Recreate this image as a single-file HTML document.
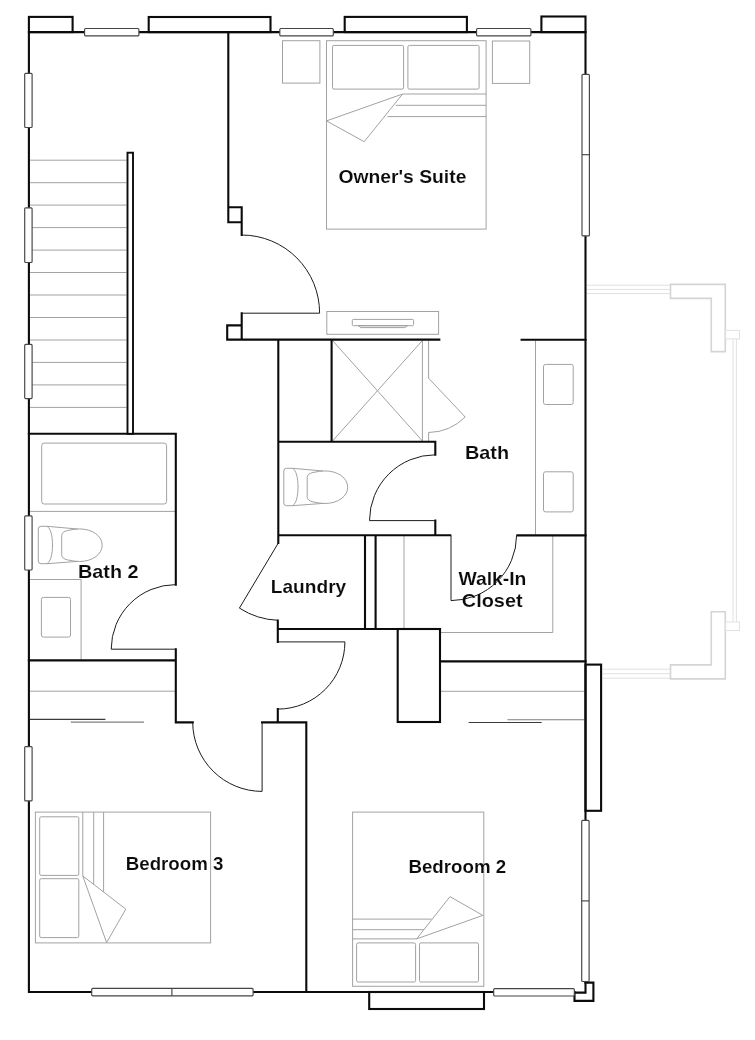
<!DOCTYPE html>
<html><head><meta charset="utf-8"><title>Floor plan</title>
<style>
html,body{margin:0;padding:0;background:#fff;}
body{width:755px;height:1040px;overflow:hidden;}
svg{display:block;}
.w{stroke:#0b0b0b;stroke-width:2.1;fill:none;stroke-linecap:square;stroke-linejoin:miter;}
.wf{stroke:#0b0b0b;stroke-width:2.1;fill:#fff;stroke-linejoin:miter;}
.d{stroke:#1c1c1c;stroke-width:1;fill:none;}
.g{stroke:#a2a2a2;stroke-width:1;fill:none;}
.gf{stroke:#a2a2a2;stroke-width:1;fill:#fff;}
.win{stroke:#444;stroke-width:1.15;fill:#fff;}
.b{stroke:#d4d4d4;stroke-width:1.6;fill:#fff;}
.bl{stroke:#e1e1e1;stroke-width:1;fill:none;}
text{font-family:"Liberation Sans",sans-serif;font-weight:bold;font-size:19px;fill:#0b0b0b;stroke:#fff;stroke-width:0.12;}
#labels{filter:grayscale(1);}
</style></head><body>
<svg width="755" height="1040" viewBox="0 0 755 1040">
<rect width="755" height="1040" fill="#fff"/>

<g id="balcony">
<path class="bl" d="M587,285.2H670.5M587,289.4H670.5M587,293.5H670.5"/>
<path class="bl" d="M602.5,669.2H670.5M602.5,673.7H670.5M602.5,678.2H670.5"/>
<path class="bl" d="M733,339V622M736.4,339V622"/>
<path class="b" d="M670.5,284.4H725.3V351.6H711.3V298.4H670.5Z"/>
<path class="b" d="M711.3,611.7H725.3V678.9H670.5V664.9H711.3Z"/>
<rect class="bl" x="725.3" y="330.4" width="14.2" height="8.5" fill="#fff"/>
<rect class="bl" x="725.3" y="622" width="14.2" height="8.5" fill="#fff"/>
</g>
<g id="furniture">
<path class="g" d="M30,160.2H126.5M30,182.7H126.5M30,205.1H126.5M30,227.6H126.5M30,250.1H126.5M30,272.5H126.5M30,295.0H126.5M30,317.5H126.5M30,340.0H126.5M30,362.4H126.5M30,384.9H126.5M30,407.4H126.5"/>
<rect class="g" x="282.5" y="40.7" width="37.4" height="42.4"/>
<rect class="g" x="492.4" y="41" width="37.3" height="42.4"/>
<rect class="g" x="326.5" y="40.7" width="159.6" height="188.4"/>
<rect class="g" x="332.5" y="45.4" width="71.1" height="43.7" rx="1.5"/>
<rect class="g" x="407.9" y="45.4" width="71.2" height="43.7" rx="1.5"/>
<path class="g" d="M402.6,94H486.1M395.7,105.3H486.1M387.4,116.6H486.1M402.6,94L326.5,120.9L364.2,141.7Z"/>
<rect class="g" x="326.8" y="311.5" width="111.8" height="22.8"/>
<rect class="g" x="352.3" y="319.4" width="61.3" height="6.3" rx="1"/>
<path class="g" d="M358,325.5L361,327.6H404.8L407.8,325.5Z" style="fill:#dcdcdc"/>
<path class="g" d="M422.4,340.5V441M332.5,340.5L422.4,441M422.4,340.5L332.5,441"/>
<path class="g" d="M428.6,340.5V378.2L465.2,417A53.5,53.5 0 0 1 428.6,432.5V441"/>
<path class="g" d="M535.5,340.5V534.5"/>
<rect class="g" x="543.5" y="364.4" width="29.7" height="40.1" rx="2"/>
<rect class="g" x="543.5" y="471.8" width="29.7" height="40.1" rx="2"/>
<g transform="translate(0.0,0.0)">
<path class="g" d="M286.5,468.3H292.5C296.3,470.5 298,478 298,487C298,496 296.3,503.5 292.5,505.7H286.5Q283.8,505.7 283.8,503V471Q283.8,468.3 286.5,468.3Z"/>
<path class="g" d="M292.5,468.3L323,471M292.5,505.7L323,503.4"/>
<path class="g" d="M307.2,477.5Q307.2,473.8 313,472.5Q320,470.9 325,470.9C338,471 347.7,478 347.7,487.2C347.7,496.4 338,503.4 325,503.5Q320,503.5 313,501.9Q307.2,500.6 307.2,496.9Z"/>
</g>
<g transform="translate(-245.5,58.0)">
<path class="g" d="M286.5,468.3H292.5C296.3,470.5 298,478 298,487C298,496 296.3,503.5 292.5,505.7H286.5Q283.8,505.7 283.8,503V471Q283.8,468.3 286.5,468.3Z"/>
<path class="g" d="M292.5,468.3L323,471M292.5,505.7L323,503.4"/>
<path class="g" d="M307.2,477.5Q307.2,473.8 313,472.5Q320,470.9 325,470.9C338,471 347.7,478 347.7,487.2C347.7,496.4 338,503.4 325,503.5Q320,503.5 313,501.9Q307.2,500.6 307.2,496.9Z"/>
</g>
<rect class="g" x="41.7" y="443.1" width="124.9" height="60.9" rx="2.5"/>
<path class="g" d="M30,511.4H175"/>
<path class="g" d="M30,579.5H81.1V659.6"/>
<rect class="g" x="41.4" y="597.4" width="29.1" height="39.7" rx="2"/>
<path class="g" d="M30,691.2H175M441,691.3H584.5"/>
<path class="g" d="M404,536V628M552.8,536V632.5H441"/>
<rect class="g" x="35.4" y="812.1" width="175.2" height="130.8"/>
<rect class="g" x="39.7" y="816.8" width="39.1" height="58.6" rx="1.5"/>
<rect class="g" x="39.7" y="878.7" width="39.1" height="58.9" rx="1.5"/>
<path class="g" d="M82.8,812.1V876M93.7,812.1V884.5M103.6,812.1V892M82.8,876L125.8,909.1L106.6,942.6Z"/>
<rect class="g" x="352.6" y="812.1" width="131.2" height="174.2"/>
<rect class="g" x="356.6" y="942.9" width="59" height="39.1" rx="1.5"/>
<rect class="g" x="419.5" y="942.9" width="59" height="39.1" rx="1.5"/>
<path class="g" d="M352.6,919.1H431.5M352.6,929.7H423.8M352.6,938.9H416.6M416.6,938.9L450,896.6L482.8,915.4Z"/>
</g>
<g id="walls">
<rect class="wf" x="28.9" y="16.9" width="43.7" height="15.2"/>
<rect class="wf" x="148.7" y="17.0" width="121.8" height="15.1"/>
<rect class="wf" x="344.7" y="16.9" width="122.2" height="15.2"/>
<rect class="wf" x="541.4" y="16.5" width="44.1" height="15.6"/>
<rect class="wf" x="585.5" y="664.6" width="15.6" height="146.2"/>
<rect class="wf" x="369.2" y="992" width="114.8" height="17"/>
<path class="w" d="M28.9,32.1V992H574.5M28.9,32.1H585.5V982.6"/>
<path class="wf" d="M585.5,982.6H593.4V1000.9H574.5V992.6H585.5Z"/>
<path class="w" d="M228.3,32.1V222.3M228.3,207.2H241.7V235M228.3,222.3H241.7M241.7,313.2V339.6M241.7,325.4H227.2V339.6H439.3M521.6,339.7H585.5M278.3,339.6V543M331.6,339.6V441.7M278.3,441.7H435.3V454.6M435.3,520.6V535.3M278.3,535.3H450.2M517.4,535.4H585.5M277.8,620.6V641.9M277.8,629H440M365,535.3V629M375.6,535.3V629M440,661.4H585.5M277.8,709.1V722.4M262.1,722.4H306.3V992M192.8,722.4H175.8V649.2M28.9,660.4H175.8M28.9,433.8H175.8V584.6"/>
<rect class="wf" x="397.7" y="629" width="42.3" height="93"/>
<rect class="wf" x="127.5" y="152.7" width="5.5" height="281.1" style="stroke-width:1.9"/>
</g>
<g id="doors">
<path class="d" d="M241.7,235A78,78 0 0 1 319.6,313.2H241.7"/>
<path class="d" d="M435.3,454.8A65.8,65.8 0 0 0 369.5,520.6H435.3"/>
<path class="d" d="M451,535.3V600.6A65.6,65.6 0 0 0 516.6,535.3"/>
<path class="d" d="M278.3,543L239.4,608.1A76.6,76.6 0 0 0 277.8,620.3"/>
<path class="d" d="M277.8,641.9H344.9A67.2,67.2 0 0 1 277.8,709.1"/>
<path class="d" d="M262.1,722.4V791.4A69.4,69.4 0 0 1 192.7,722.4"/>
<path class="d" d="M175.8,584.6A64.6,64.6 0 0 0 111.2,649.2H175.8"/>
<path class="d" style="stroke:#3a3a3a;stroke-width:1.1" d="M29.8,719.4H105.4M468.6,722.5H541.7"/>
<path class="d" style="stroke:#808080;stroke-width:1.1" d="M70.8,722.1H144M507.4,719.8H584"/>
</g>
<g id="windows">
<rect class="win" x="84.6" y="28.5" width="54.3" height="7.4" rx="1"/>
<rect class="win" x="279.8" y="28.5" width="53.5" height="7.4" rx="1"/>
<rect class="win" x="476.6" y="28.5" width="54.3" height="7.4" rx="1"/>
<rect class="win" x="24.7" y="73.3" width="7.4" height="54.2" rx="1"/>
<rect class="win" x="24.7" y="207.8" width="7.4" height="54.7" rx="1"/>
<rect class="win" x="24.7" y="344.4" width="7.4" height="54.2" rx="1"/>
<rect class="win" x="24.7" y="515.9" width="7.4" height="54.1" rx="1"/>
<rect class="win" x="24.7" y="746.6" width="7.4" height="54.3" rx="1"/>
<rect class="win" x="582.0" y="74.3" width="7.4" height="161.6" rx="1"/>
<path class="win" d="M582.0,154.7H589.4"/>
<rect class="win" x="581.7" y="820.4" width="7.4" height="161.1" rx="1"/>
<path class="win" d="M581.7,900.9H589.1"/>
<rect class="win" x="91.7" y="988.4" width="161.4" height="7.4" rx="1"/>
<path class="win" d="M171.9,988.4V995.8"/>
<rect class="win" x="493.7" y="988.6" width="80.6" height="7.4" rx="1"/>
</g>
<g id="labels">
<text x="338.4" y="182.9" textLength="128.0" lengthAdjust="spacingAndGlyphs">Owner&#39;s Suite</text>
<text x="464.9" y="459.4" textLength="44.2" lengthAdjust="spacingAndGlyphs">Bath</text>
<text x="78.0" y="577.7" textLength="60.6" lengthAdjust="spacingAndGlyphs">Bath 2</text>
<text x="270.8" y="593.0" textLength="75.4" lengthAdjust="spacingAndGlyphs">Laundry</text>
<text x="458.4" y="585.2" textLength="68.0" lengthAdjust="spacingAndGlyphs">Walk-In</text>
<text x="461.8" y="606.8" textLength="60.8" lengthAdjust="spacingAndGlyphs">Closet</text>
<text x="125.8" y="870.1" textLength="97.6" lengthAdjust="spacingAndGlyphs">Bedroom 3</text>
<text x="408.4" y="872.8" textLength="97.8" lengthAdjust="spacingAndGlyphs">Bedroom 2</text>
</g>
</svg></body></html>
